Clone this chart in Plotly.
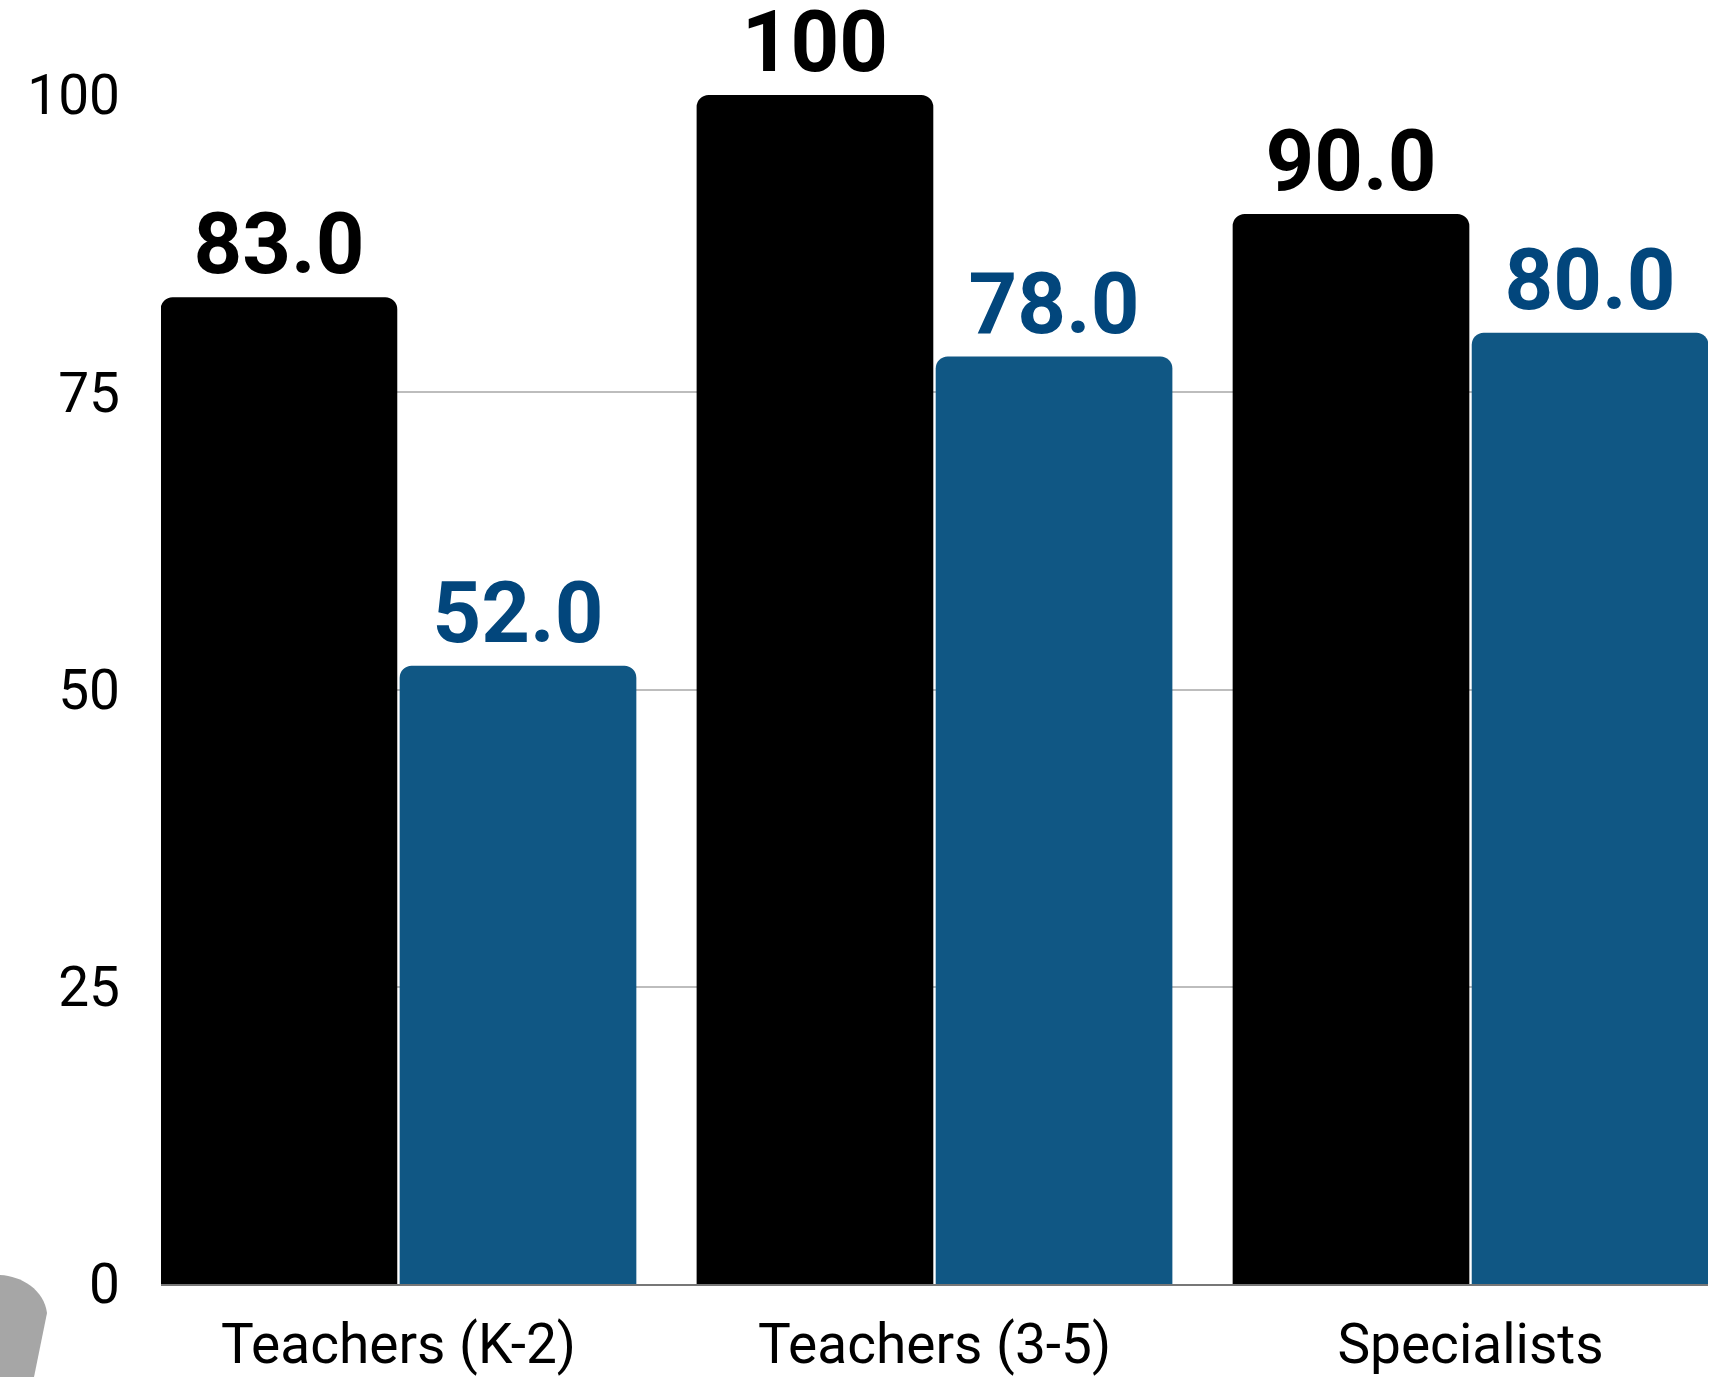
import plotly.graph_objects as go

# Survey results by staff group
categories = ["Teachers (K-2)", "Teachers (3-5)", "Specialists"]
series_a = [83.0, 100.0, 90.0]
series_b = [52.0, 78.0, 80.0]
y_ticks = [0, 25, 50, 75, 100]

W, H = 1722, 1377
M_L, M_R, M_T, M_B = 161, 14, 95, 93
BARGAP = 0.108

BLACK = "#000000"
BLUE_BAR = "#105784"
BLUE_TEXT = "#02467c"
FONT = "Roboto"


def label(v):
    return "100" if v >= 100 else f"{v:.1f}"


fig = go.Figure()
fig.add_trace(go.Bar(
    x=categories, y=series_a, marker_color=BLACK, marker_line_width=0,
    text=[label(v) for v in series_a], textposition="outside",
    textfont=dict(family=FONT, size=85, color=BLACK, weight="bold"),
    cliponaxis=False, showlegend=False,
))
fig.add_trace(go.Bar(
    x=categories, y=series_b, marker_color=BLUE_BAR, marker_line_width=0,
    text=[label(v) for v in series_b], textposition="outside",
    textfont=dict(family=FONT, size=85, color=BLUE_TEXT, weight="bold"),
    cliponaxis=False, showlegend=False,
))


# Decorative grey tab in the lower-left corner, given in page pixels
def to_paper(px, py):
    pw = W - M_L - M_R
    ph = H - M_T - M_B
    return (px - M_L) / pw, (H - M_B - py) / ph


pts = [(0, 1275), (22, 1276), (44, 1290), (47, 1313), (34, 1377), (0, 1377)]
pp = [to_paper(x, y) for x, y in pts]
path = (f"M {pp[0][0]},{pp[0][1]} C {pp[1][0]},{pp[1][1]} {pp[2][0]},{pp[2][1]} "
        f"{pp[3][0]},{pp[3][1]} L {pp[4][0]},{pp[4][1]} L {pp[5][0]},{pp[5][1]} Z")
fig.add_shape(type="path", path=path, xref="paper", yref="paper",
              fillcolor="#a6a6a6", line_width=0, layer="below")

half = (1 - BARGAP) / 2
fig.update_layout(
    width=W, height=H,
    margin=dict(l=M_L, r=M_R, t=M_T, b=M_B, pad=0),
    paper_bgcolor="white", plot_bgcolor="white",
    barmode="group", bargap=BARGAP, bargroupgap=0.01,
    barcornerradius=12,
    font=dict(family=FONT, size=55, color="#000000"),
    xaxis=dict(
        type="category", range=[-half + 0.003, len(categories) - 1 + half - 0.003],
        showgrid=False, showline=True, linecolor="#777777", linewidth=2,
        ticks="", ticklabelstandoff=11, automargin=False,
        tickfont=dict(family=FONT, size=55, color="#000000"),
    ),
    yaxis=dict(
        range=[0, 100], tickvals=y_ticks, ticktext=[str(t) for t in y_ticks],
        showgrid=True, gridcolor="#bdbdbd", gridwidth=1.5,
        zeroline=False, showline=False, ticks="",
        ticklabelstandoff=40, automargin=False,
        tickfont=dict(family=FONT, size=55, color="#000000"),
    ),
)

fig.write_html("out.html")
